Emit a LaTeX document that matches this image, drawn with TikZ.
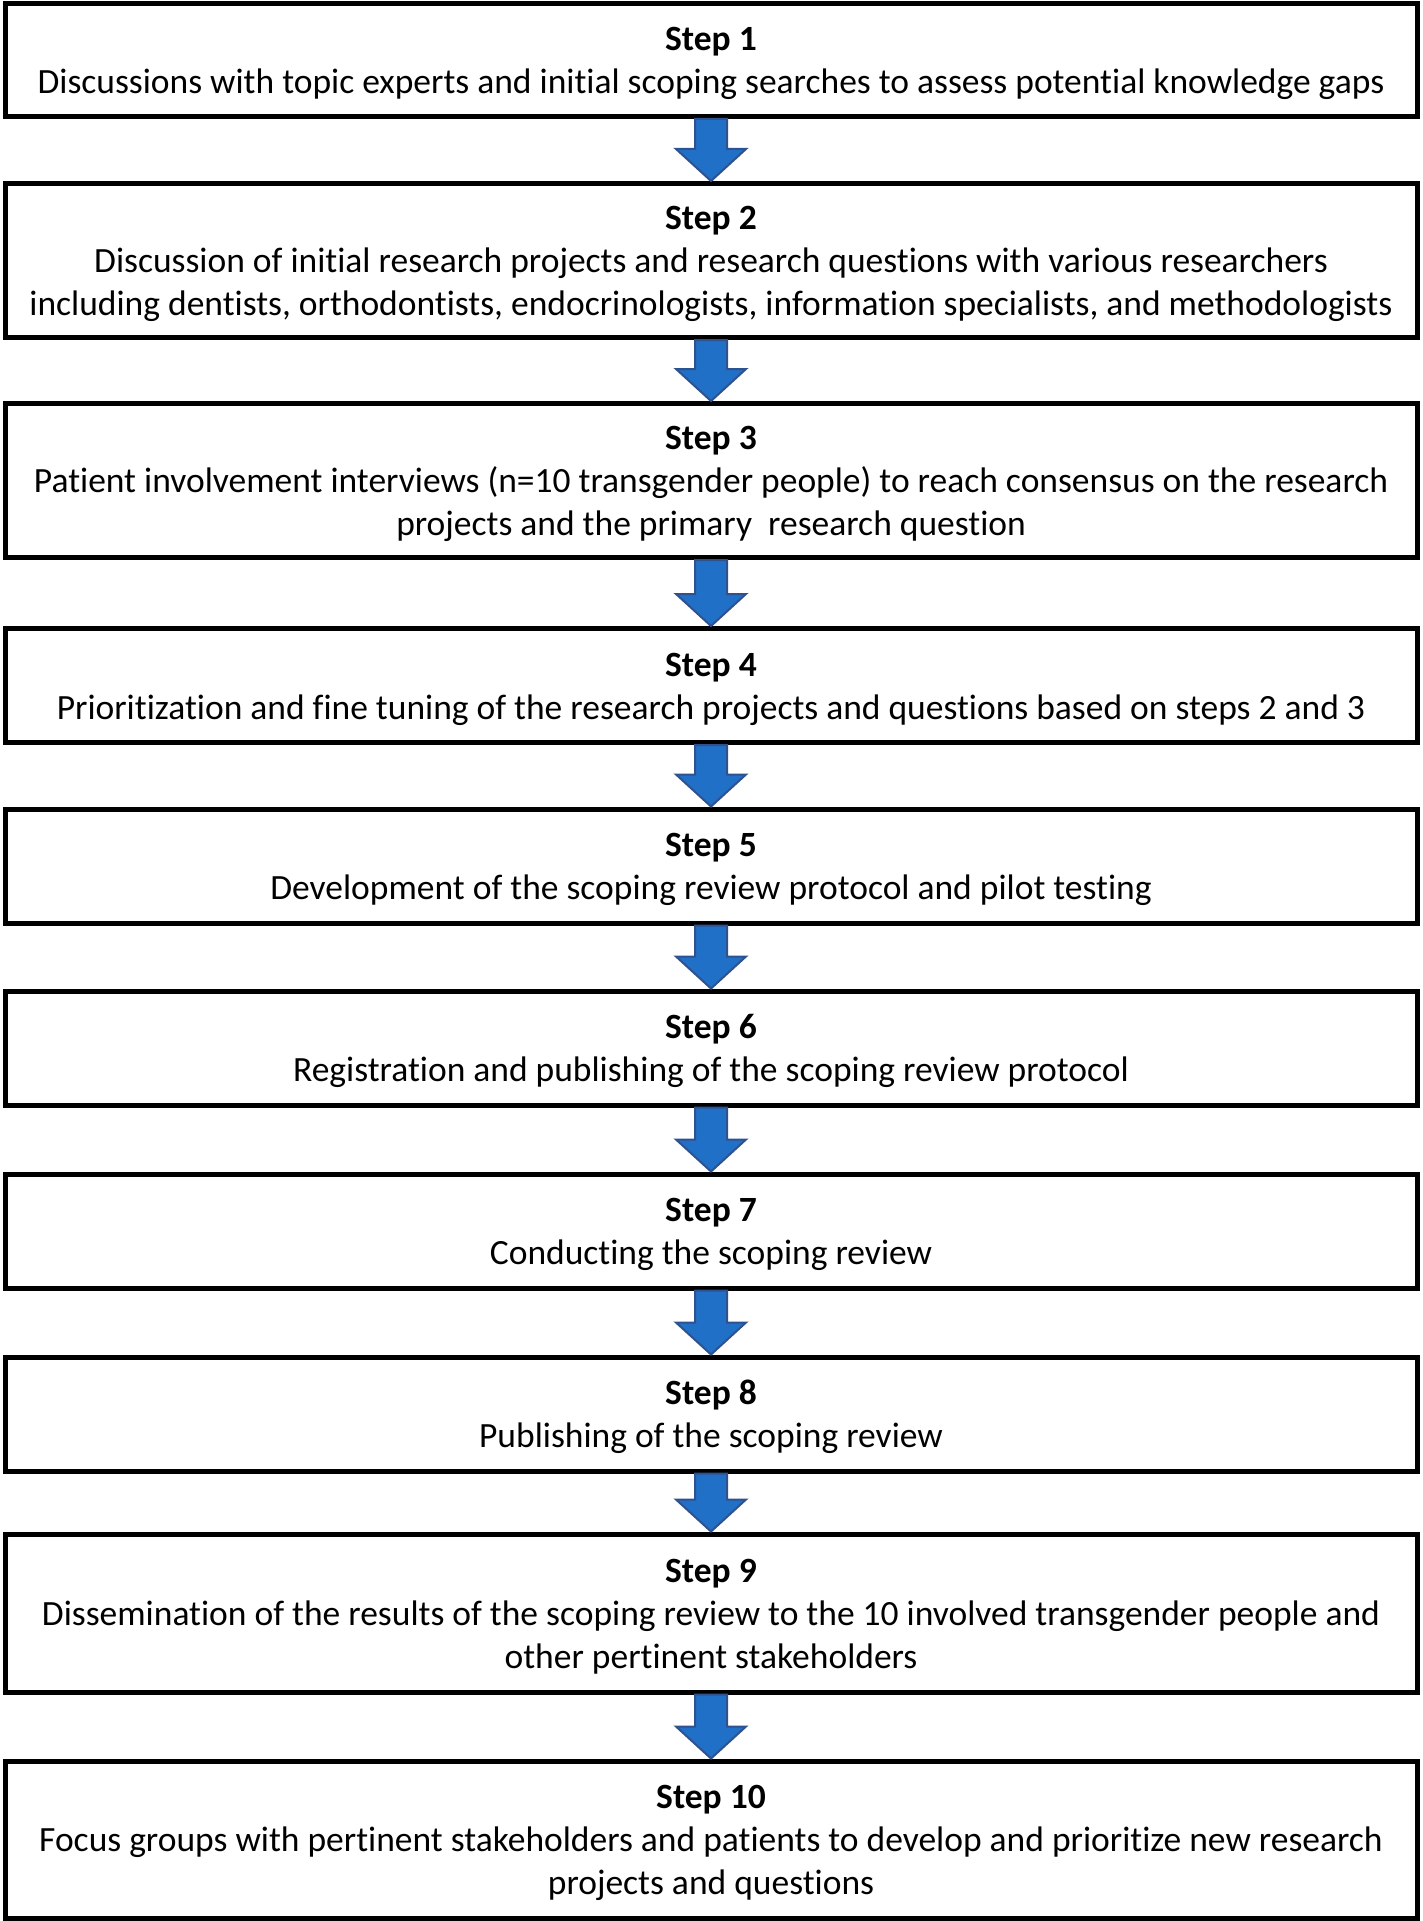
\documentclass[tikz,border=0pt]{standalone}
\usepackage{fontspec}
\setmainfont{Carlito}[Ligatures=NoCommon]
\usetikzlibrary{calc}
\definecolor{arrowblue}{RGB}{31,112,198}
\definecolor{arrowedge}{RGB}{47,82,143}
\newcommand{\stephead}[1]{\rule{0pt}{31pt}\textbf{Step #1}}
\tikzset{
  stepbox/.style={draw, line width=5, fill=white, minimum width=1412, inner sep=0, align=center, font=\fontsize{35.5}{43}\selectfont},
  flowarrow/.style={draw=arrowedge, line width=2, fill=arrowblue, line join=miter}
}
\newcommand{\steparrow}[2]{%
  \draw[flowarrow] ($(#1.south)+(-16,0)$) -- ($(#2.north)+(-16,-32)$) -- ($(#2.north)+(-35,-32)$) -- (#2.north) -- ($(#2.north)+(35,-32)$) -- ($(#2.north)+(16,-32)$) -- ($(#1.south)+(16,0)$) -- cycle;}
\begin{document}
\begin{tikzpicture}[x=1pt,y=-1pt]
\useasboundingbox (0,0) rectangle (1422,1921);
\node[stepbox, minimum height=113] (s1) at (711,60) {\stephead{1}\\Discussions with topic experts and initial scoping searches to assess potential knowledge gaps};
\node[stepbox, minimum height=154] (s2) at (711,260.5) {\stephead{2}\\Discussion of initial research projects and research questions with various researchers\\including dentists, orthodontists, endocrinologists, information specialists, and methodologists};
\node[stepbox, minimum height=154] (s3) at (711,480.5) {\stephead{3}\\Patient involvement interviews (n=10 transgender people) to reach consensus on the research\\projects and the primary~ research question};
\node[stepbox, minimum height=114] (s4) at (711,685.5) {\stephead{4}\\Prioritization and fine tuning of the research projects and questions based on steps 2 and 3};
\node[stepbox, minimum height=114] (s5) at (711,866) {\stephead{5}\\Development of the scoping review protocol and pilot testing};
\node[stepbox, minimum height=114] (s6) at (711,1048) {\stephead{6}\\Registration and publishing of the scoping review protocol};
\node[stepbox, minimum height=114] (s7) at (711,1231) {\stephead{7}\\Conducting the scoping review};
\node[stepbox, minimum height=114] (s8) at (711,1414) {\stephead{8}\\Publishing of the scoping review};
\node[stepbox, minimum height=158] (s9) at (711,1613) {\stephead{9}\\Dissemination of the results of the scoping review to the 10 involved transgender people and\\other pertinent stakeholders};
\node[stepbox, minimum height=157] (s10) at (711,1839.5) {\stephead{10}\\Focus groups with pertinent stakeholders and patients to develop and prioritize new research\\projects and questions};
\foreach \a/\b in {s1/s2,s2/s3,s3/s4,s4/s5,s5/s6,s6/s7,s7/s8,s8/s9,s9/s10}
  \steparrow{\a}{\b};
\end{tikzpicture}
\end{document}
